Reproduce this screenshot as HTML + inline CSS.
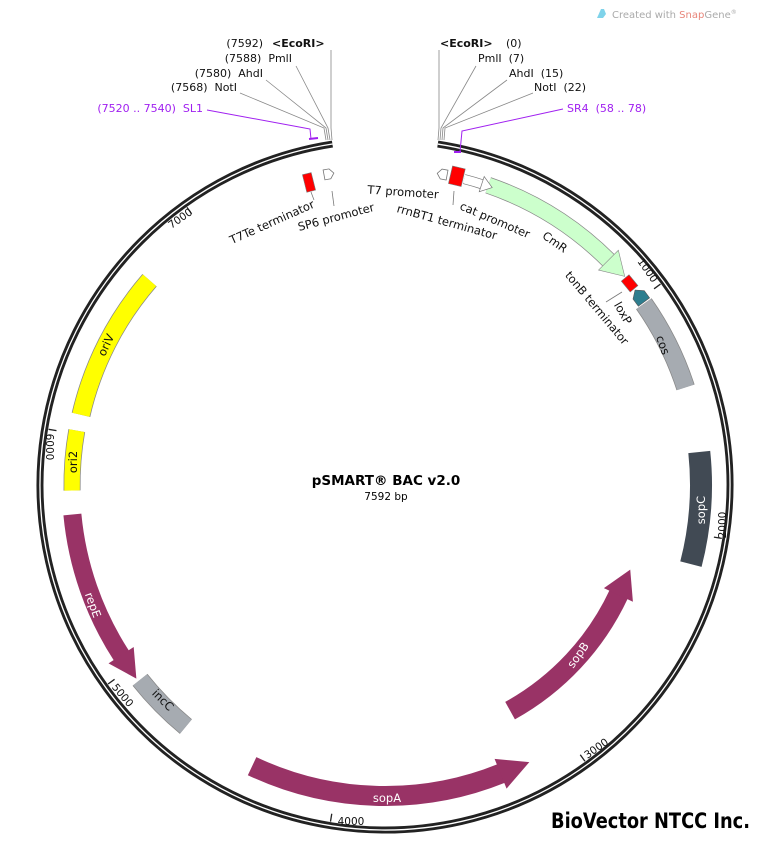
<!DOCTYPE html>
<html><head><meta charset="utf-8"><style>
html,body{margin:0;padding:0;background:#fff;width:767px;height:850px;overflow:hidden;}
svg{display:block;font-family:"DejaVu Sans","Liberation Sans",sans-serif;}
text{white-space:pre;}
</style></head><body>
<svg width="767" height="850" viewBox="0 0 767 850" xmlns="http://www.w3.org/2000/svg" xml:space="preserve">
<rect width="767" height="850" fill="#fff"/>
<path d="M597 18 L601 9 L604 9 L606 14 L603 18 Z" fill="#7fd3ea"/>
<text x="612" y="18" font-size="10" fill="#aaa">Created with <tspan fill="#e8857a">Snap</tspan>Gene<tspan font-size="6" dy="-4">®</tspan></text>

<circle cx="385" cy="485" r="345" fill="none" stroke="#222" stroke-width="7" stroke-dasharray="2061.7 9999" transform="rotate(-81.2 385 485)"/>
<circle cx="385" cy="485" r="345" fill="none" stroke="#fff" stroke-width="1.3" stroke-dasharray="2061.7 9999" transform="rotate(-81.2 385 485)"/>

<g stroke="#222" stroke-width="1.3">
<line x1="385" y1="144" x2="385" y2="152" transform="rotate(53.9 385 485)"/>
<line x1="385" y1="144" x2="385" y2="152" transform="rotate(99 385 485)"/>
<line x1="385" y1="144" x2="385" y2="152" transform="rotate(144.1 385 485)"/>
<line x1="385" y1="144" x2="385" y2="152" transform="rotate(189.2 385 485)"/>
<line x1="385" y1="144" x2="385" y2="152" transform="rotate(234.3 385 485)"/>
<line x1="385" y1="144" x2="385" y2="152" transform="rotate(279.4 385 485)"/>
<line x1="385" y1="144" x2="385" y2="152" transform="rotate(324.5 385 485)"/>
</g>
<g font-size="10.5" fill="#111" text-anchor="middle">
<text x="648" y="274" transform="rotate(55 648 270)">1000</text>
<text x="722" y="529" transform="rotate(-90 722 525)">2000</text>
<text x="596" y="752" transform="rotate(-35 596 748)">3000</text>
<text x="351" y="825">4000</text>
<text x="123" y="699" transform="rotate(50 123 695)">5000</text>
<text x="50" y="451" transform="rotate(90 50 447)">6000</text>
<text x="180" y="222" transform="rotate(-35 180 218)">7000</text>
</g>

<circle cx="385" cy="485" r="317" fill="none" stroke="#888" stroke-width="17" stroke-dasharray="143.9 9999" transform="rotate(-71 385 485)"/>
<circle cx="385" cy="485" r="317" fill="none" stroke="#ccffcc" stroke-width="15.5" stroke-dasharray="143.9 9999" transform="rotate(-71 385 485)"/>
<polygon points="384,154 384,182 407,168" fill="#ccffcc" stroke="#888" stroke-width="0.6" transform="rotate(45 385 485)"/>
<circle cx="385" cy="485" r="316" fill="none" stroke="#777" stroke-width="10" stroke-dasharray="19.3 9999" transform="rotate(-75.5 385 485)"/>
<circle cx="385" cy="485" r="316" fill="none" stroke="#fff" stroke-width="8.6" stroke-dasharray="19.3 9999" transform="rotate(-75.5 385 485)"/>
<polygon points="384,161 384,177 395,169" fill="#fff" stroke="#777" stroke-width="0.7" transform="rotate(18 385 485)"/>
<rect x="378.5" y="159" width="13" height="18" fill="#f00" stroke="#777" stroke-width="0.6" transform="rotate(13.1 385 485)"/>
<polygon points="389,164 389,174 383,174 379,169 383,164" fill="#fff" stroke="#777" stroke-width="0.8" transform="rotate(10.6 385 485)"/>
<polygon points="381,164 381,174 387,174 391,169 387,164" fill="#fff" stroke="#777" stroke-width="0.8" transform="rotate(-10.4 385 485)"/>
<rect x="380.5" y="164" width="9" height="18" fill="#f00" stroke="#777" stroke-width="0.6" transform="rotate(-14.1 385 485)"/>
<rect x="378" y="163" width="14" height="10" fill="#f00" stroke="#777" stroke-width="0.6" transform="rotate(50.5 385 485)"/>
<polygon points="392,161 392,175 383,175 377,168 383,161" fill="#2d7d8e" stroke="#555" stroke-width="0.6" transform="rotate(53.5 385 485)"/>
<circle cx="385" cy="485" r="316" fill="none" stroke="#888" stroke-width="19" stroke-dasharray="93.8 9999" transform="rotate(-35 385 485)"/>
<circle cx="385" cy="485" r="316" fill="none" stroke="#a6abb1" stroke-width="17.5" stroke-dasharray="93.8 9999" transform="rotate(-35 385 485)"/>
<circle cx="385" cy="485" r="316" fill="none" stroke="#414a54" stroke-width="22" stroke-dasharray="113.1 9999" transform="rotate(-6 385 485)"/>
<circle cx="385" cy="485" r="258" fill="none" stroke="#993366" stroke-width="20" stroke-dasharray="162.1 9999" transform="rotate(25 385 485)"/>
<polygon points="386,211 386,243 358,227" fill="#993366" transform="rotate(115 385 485)"/>
<circle cx="385" cy="485" r="311" fill="none" stroke="#993366" stroke-width="20" stroke-dasharray="256.7 9999" transform="rotate(68 385 485)"/>
<polygon points="386,158 386,190 355,174" fill="#993366" transform="rotate(158 385 485)"/>
<circle cx="385" cy="485" r="313" fill="none" stroke="#888" stroke-width="19" stroke-dasharray="65.6 9999" transform="rotate(129.5 385 485)"/>
<circle cx="385" cy="485" r="313" fill="none" stroke="#a6abb1" stroke-width="17.5" stroke-dasharray="65.6 9999" transform="rotate(129.5 385 485)"/>
<circle cx="385" cy="485" r="314" fill="none" stroke="#993366" stroke-width="18" stroke-dasharray="151.3 9999" transform="rotate(147 385 485)"/>
<polygon points="386,156 386,186 358,171" fill="#993366" transform="rotate(237 385 485)"/>
<circle cx="385" cy="485" r="313" fill="none" stroke="#888" stroke-width="17" stroke-dasharray="60.1 9999" transform="rotate(179 385 485)"/>
<circle cx="385" cy="485" r="313" fill="none" stroke="#ffff00" stroke-width="15.5" stroke-dasharray="60.1 9999" transform="rotate(179 385 485)"/>
<circle cx="385" cy="485" r="312" fill="none" stroke="#888" stroke-width="19" stroke-dasharray="152.5 9999" transform="rotate(193 385 485)"/>
<circle cx="385" cy="485" r="312" fill="none" stroke="#ffff00" stroke-width="17.5" stroke-dasharray="152.5 9999" transform="rotate(193 385 485)"/>

<g font-size="11.5" text-anchor="middle">
<text x="555" y="246" transform="rotate(35 555 242)" fill="#111">CmR</text>
<text x="663" y="349" transform="rotate(70 663 345)" fill="#111">cos</text>
<text x="701" y="514" transform="rotate(-90 701 510)" fill="#fff">sopC</text>
<text x="578" y="659" transform="rotate(-55 578 655)" fill="#fff">sopB</text>
<text x="387" y="802" fill="#fff">sopA</text>
<text x="163" y="704" transform="rotate(45 163 700)" fill="#111">incC</text>
<text x="93" y="609" transform="rotate(70 93 605)" fill="#fff">repE</text>
<text x="73" y="466" transform="rotate(-90 73 462)" fill="#111">ori2</text>
<text x="106" y="349" transform="rotate(-65 106 345)" fill="#111">oriV</text>
</g>

<g font-size="11.5" fill="#111" text-anchor="middle">
<text x="272" y="226" transform="rotate(-24 272 222)">T7Te terminator</text>
<text x="336" y="221" transform="rotate(-15 336 217)">SP6 promoter</text>
<text x="403" y="196" transform="rotate(4 403 192)">T7 promoter</text>
<text x="447" y="226" transform="rotate(15.5 447 222)">rrnBT1 terminator</text>
<text x="495" y="224" transform="rotate(23 495 220)">cat promoter</text>
<text x="597" y="312" transform="rotate(50 597 308)">tonB terminator</text>
<text x="623" y="317" transform="rotate(60 623 313)">loxP</text>
</g>
<g stroke="#777" stroke-width="0.8">
<line x1="311" y1="192" x2="314" y2="200"/>
<line x1="332" y1="191" x2="334" y2="206"/>
<line x1="454" y1="191" x2="453" y2="205"/>
<line x1="622" y1="292" x2="606" y2="302"/>
</g>

<g stroke="#888" stroke-width="0.8" fill="none">
<polyline points="331,50 331,128 332,140"/>
<polyline points="296,66 328,128 330,140"/>
<polyline points="266,80 326,128 328,140"/>
<polyline points="240,93 324,128 326,140"/>
<polyline points="439,50 439,128 438,140"/>
<polyline points="476,66 441,128 440,140"/>
<polyline points="507,80 443,128 442,140"/>
<polyline points="533,93 445,128 444,140"/>
</g>
<g fill="none" stroke="#a020f0" stroke-width="1">
<polyline points="207,110 310,129 311,139"/>
<line x1="309" y1="139" x2="318" y2="138" stroke-width="2"/>
<polyline points="563,109 462,131 460,152"/>
<line x1="454" y1="152" x2="461" y2="152" stroke-width="2"/>
</g>
<g font-size="11" fill="#111">
<text x="263" y="47" text-anchor="end">(7592)</text>
<text x="272" y="47" font-weight="bold">&lt;EcoRI&gt;</text>
<text x="292" y="62" text-anchor="end">(7588)  PmlI</text>
<text x="263" y="77" text-anchor="end">(7580)  AhdI</text>
<text x="237" y="91" text-anchor="end">(7568)  NotI</text>
<text x="203" y="112" text-anchor="end" fill="#a020f0">(7520 .. 7540)  SL1</text>
<text x="440" y="47" font-weight="bold">&lt;EcoRI&gt;</text>
<text x="506" y="47">(0)</text>
<text x="478" y="62">PmlI  (7)</text>
<text x="509" y="77">AhdI  (15)</text>
<text x="534" y="91">NotI  (22)</text>
<text x="567" y="112" fill="#a020f0">SR4  (58 .. 78)</text>
</g>

<text x="386" y="485" font-size="13.5" font-weight="bold" text-anchor="middle" fill="#000">pSMART® BAC v2.0</text>
<text x="386" y="500" font-size="10.5" text-anchor="middle" fill="#000">7592 bp</text>

<text x="551" y="828" font-size="21" font-weight="bold" textLength="199" lengthAdjust="spacingAndGlyphs" fill="#000">BioVector NTCC Inc.</text>
</svg>
</body></html>
